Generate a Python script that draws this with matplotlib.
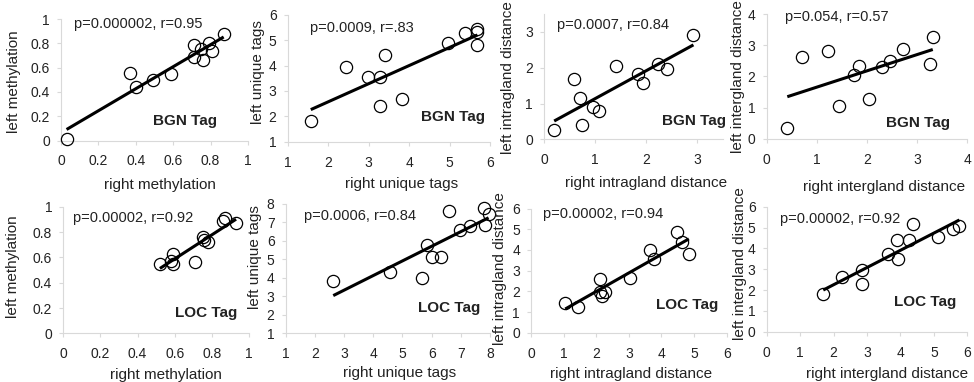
import numpy as np
import matplotlib
matplotlib.use("Agg")
import matplotlib.pyplot as plt
from matplotlib.ticker import FormatStrFormatter

plt.rcParams['font.family'] = ['Liberation Sans', 'DejaVu Sans']

# --- data (right = x, left = y) ---
meth_bgn_x = [0.03, 0.37, 0.40, 0.49, 0.59, 0.71, 0.71, 0.76, 0.75, 0.79, 0.81, 0.87]
meth_bgn_y = [0.01, 0.56, 0.44, 0.50, 0.55, 0.79, 0.69, 0.66, 0.75, 0.80, 0.74, 0.88]

tags_bgn_x = [1.57, 2.43, 2.99, 3.28, 3.40, 3.27, 3.82, 4.97, 5.38, 5.69, 5.69, 5.69]
tags_bgn_y = [1.83, 3.96, 3.57, 3.54, 4.42, 2.42, 2.68, 4.88, 5.28, 5.43, 5.32, 4.82]

intra_bgn_x = [0.20, 0.59, 0.71, 0.75, 0.97, 1.08, 1.42, 1.84, 1.95, 2.24, 2.42, 2.93]
intra_bgn_y = [0.26, 1.68, 1.16, 0.40, 0.89, 0.79, 2.05, 1.82, 1.56, 2.09, 1.95, 2.92]

inter_bgn_x = [0.41, 0.71, 1.23, 1.45, 1.73, 1.83, 2.04, 2.29, 2.45, 2.72, 3.26, 3.31]
inter_bgn_y = [0.33, 2.63, 2.81, 1.06, 2.04, 2.33, 1.29, 2.31, 2.50, 2.87, 2.41, 3.27]

meth_loc_x = [0.52, 0.59, 0.58, 0.59, 0.71, 0.75, 0.76, 0.78, 0.87, 0.86, 0.93]
meth_loc_y = [0.55, 0.63, 0.57, 0.55, 0.56, 0.76, 0.74, 0.72, 0.91, 0.89, 0.87]

tags_loc_x = [2.63, 4.57, 5.66, 5.84, 6.00, 6.33, 6.59, 6.96, 7.30, 7.79, 7.84, 7.95]
tags_loc_y = [3.81, 4.32, 3.99, 5.78, 5.12, 5.12, 7.64, 6.58, 6.81, 7.77, 6.86, 7.46]

intra_loc_x = [1.05, 1.43, 2.10, 2.10, 2.17, 2.28, 3.05, 3.66, 3.78, 4.48, 4.63, 4.84]
intra_loc_y = [1.45, 1.23, 2.60, 1.98, 1.77, 1.98, 2.63, 4.00, 3.55, 4.89, 4.40, 3.81]

inter_loc_x = [1.69, 2.24, 2.84, 2.86, 3.64, 3.94, 3.89, 4.24, 4.36, 5.11, 5.56, 5.76]
inter_loc_y = [1.81, 2.61, 2.29, 2.96, 3.73, 3.47, 4.40, 4.40, 5.17, 4.56, 4.91, 5.07]

stats = ["p=0.000002, r=0.95", "p=0.0009, r=.83", "p=0.0007, r=0.84", "p=0.054, r=0.57",
         "p=0.00002, r=0.92", "p=0.0006, r=0.84", "p=0.00002, r=0.94", "p=0.00002, r=0.92"]
tags = ["BGN Tag"] * 4 + ["LOC Tag"] * 4
xlabels = ["right methylation", "right unique tags", "right intragland distance", "right intergland distance"] * 2
ylabels = ["left methylation", "left unique tags", "left intragland distance", "left intergland distance"] * 2

panels = [
    (meth_bgn_x, meth_bgn_y), (tags_bgn_x, tags_bgn_y), (intra_bgn_x, intra_bgn_y), (inter_bgn_x, inter_bgn_y),
    (meth_loc_x, meth_loc_y), (tags_loc_x, tags_loc_y), (intra_loc_x, intra_loc_y), (inter_loc_x, inter_loc_y),
]

# layout: axes rect, limits, ticks, text spots, label spots
rects = [
    [0.0626, 0.632, 0.192, 0.318], [0.2954, 0.629, 0.2077, 0.332],
    [0.5585, 0.635, 0.1833, 0.329], [0.7872, 0.637, 0.206, 0.326],
    [0.065, 0.1275, 0.1907, 0.331], [0.2933, 0.1275, 0.2098, 0.3385],
    [0.5452, 0.129, 0.2009, 0.325], [0.7872, 0.1317, 0.206, 0.327],
]
limits = [(0, 1), (1, 6), (0, 3.5), (0, 4), (0, 1), (1, 8), (0, 6), (0, 6)]
ticks = [np.arange(0, 1.01, 0.2), np.arange(1, 7), np.arange(0, 4), np.arange(0, 5),
         np.arange(0, 1.01, 0.2), np.arange(1, 9), np.arange(0, 7), np.arange(0, 7)]
stat_pos = [(0.07, 0.96), (0.11, 0.897), (0.071, 0.909), (0.091, 0.978),
            (0.054, 0.908), (0.091, 0.907), (0.063, 0.957), (0.066, 0.899)]
tag_pos = [(0.833, 0.165), (0.975, 0.197), (1.02, 0.148), (0.914, 0.128),
           (0.937, 0.158), (0.951, 0.193), (0.957, 0.223), (0.947, 0.24)]
xlab_pos = [(0.53, -0.365), (0.563, -0.33), (0.57, -0.35), (0.586, -0.385),
            (0.551, -0.33), (0.555, -0.31), (0.509, -0.33), (0.601, -0.335)]
ylab_pos = [(-0.251, 0.486), (-0.145, 0.552), (-0.2, 0.495), (-0.142, 0.5),
            (-0.272, 0.526), (-0.15, 0.588), (-0.158, 0.52), (-0.133, 0.547)]

fig = plt.figure(figsize=(9.74, 3.82), dpi=100)

for i, (xs, ys) in enumerate(panels):
    ax = fig.add_axes(rects[i])
    xs = np.array(xs)
    ys = np.array(ys)
    ax.plot(xs, ys, 'o', ms=8.8, mfc='none', mec='black', mew=0.9, zorder=3, clip_on=False)
    slope, icpt = np.polyfit(xs, ys, 1)
    fx = np.array([xs.min(), xs.max()])
    ax.plot(fx, slope * fx + icpt, color='black', lw=2.2, zorder=2, solid_capstyle='butt')

    lo, hi = limits[i]
    ax.set_xlim(lo, hi)
    ax.set_ylim(lo, hi)
    ax.set_xticks(ticks[i])
    ax.set_yticks(ticks[i])
    ax.xaxis.set_major_formatter(FormatStrFormatter('%g'))
    ax.yaxis.set_major_formatter(FormatStrFormatter('%g'))
    for s in ['top', 'right']:
        ax.spines[s].set_visible(False)
    for s in ['left', 'bottom']:
        ax.spines[s].set_color('#d9d9d9')
        ax.spines[s].set_linewidth(0.8)
    ax.tick_params(length=3, width=0.8, color='#d9d9d9', labelsize=10, labelcolor='#222222', pad=7)
    ax.tick_params(axis='y', pad=5)
    ax.patch.set_alpha(0)

    ax.set_xlabel(xlabels[i], fontsize=11, color='#222222', va='center')
    ax.set_ylabel(ylabels[i], fontsize=11, color='#222222', va='center')
    ax.xaxis.set_label_coords(*xlab_pos[i])
    ax.yaxis.set_label_coords(*ylab_pos[i])

    ax.text(stat_pos[i][0], stat_pos[i][1], stats[i], transform=ax.transAxes,
            fontsize=10.5, color='#222222', ha='left', va='center')
    ax.text(tag_pos[i][0], tag_pos[i][1], tags[i], transform=ax.transAxes,
            fontsize=11, fontweight='bold', color='#222222', ha='right', va='center')

fig.savefig("out.png", dpi=100)
